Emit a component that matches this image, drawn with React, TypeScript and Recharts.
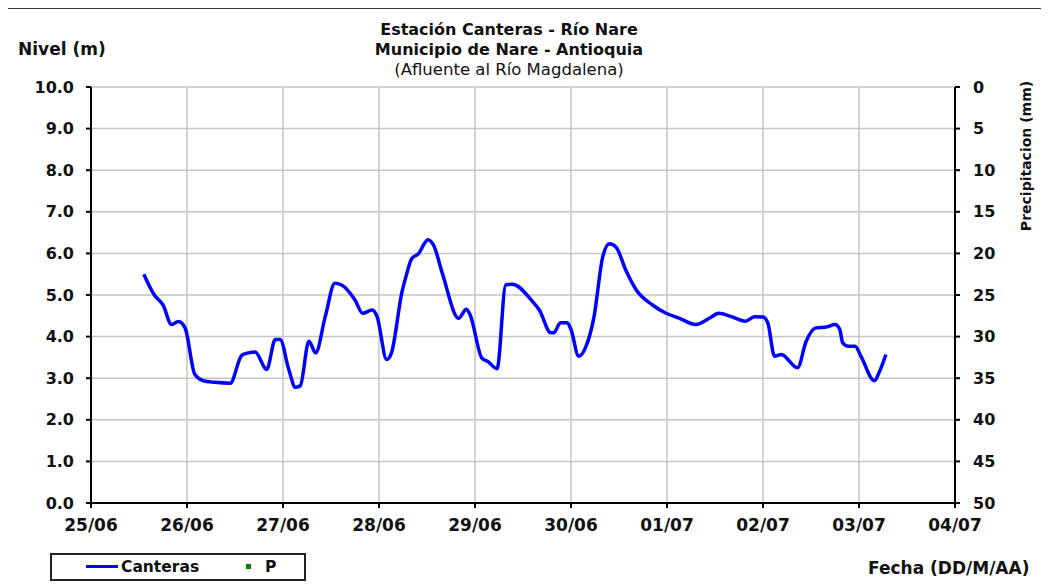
import React from "react";
import { LineChart, Line, XAxis, YAxis, CartesianGrid } from "recharts";

// días desde 25/06 00:00
const tiempo = [
  0.55, 0.66, 0.75, 0.84, 0.91, 0.98, 1.08, 1.17, 1.29, 1.45, 1.57, 1.64, 1.71, 1.83, 1.92, 1.97,
  2.06, 2.13, 2.18, 2.27, 2.34, 2.44, 2.54, 2.61, 2.75, 2.83, 2.93, 2.98, 3.08, 3.13, 3.24, 3.29,
  3.34, 3.41, 3.51, 3.57, 3.66, 3.83, 3.91, 3.95, 4.07, 4.14, 4.23, 4.32, 4.39, 4.6, 4.67, 4.79,
  4.82, 4.89, 4.96, 5.0, 5.08, 5.15, 5.24, 5.33, 5.4, 5.47, 5.57, 5.68, 5.85, 5.99, 6.13, 6.3,
  6.44, 6.54, 6.67, 6.82, 6.91, 7.0, 7.05, 7.12, 7.19, 7.36, 7.45, 7.55, 7.66, 7.75, 7.8, 7.83,
  7.89, 7.96, 8.02, 8.16, 8.21, 8.28,
];

const canteras = [
  5.5, 5.0, 4.76, 4.29, 4.36, 4.21, 3.1, 2.94, 2.9, 2.88, 3.55, 3.61, 3.63, 3.21, 3.93, 3.93,
  3.21, 2.78, 2.82, 3.89, 3.61, 4.48, 5.28, 5.24, 4.88, 4.56, 4.64, 4.48, 3.45, 3.61, 5.08, 5.52,
  5.87, 5.99, 6.33, 6.19, 5.52, 4.44, 4.66, 4.52, 3.49, 3.39, 3.23, 5.24, 5.26, 4.84, 4.64, 4.09,
  4.09, 4.33, 4.33, 4.17, 3.53, 3.73, 4.48, 5.91, 6.23, 6.15, 5.6, 5.12, 4.76, 4.56, 4.44, 4.29,
  4.44, 4.56, 4.48, 4.37, 4.48, 4.47, 4.33, 3.53, 3.57, 3.25, 3.89, 4.21, 4.23, 4.29, 4.17, 3.85,
  3.77, 3.77, 3.53, 2.94, 3.14, 3.57,
];

// sin registros de precipitación en el periodo
const precipitacion: (number | null)[] = [];

const fechas = ["25/06", "26/06", "27/06", "28/06", "29/06", "30/06", "01/07", "02/07", "03/07", "04/07"];
const nivelTicks = [0, 1, 2, 3, 4, 5, 6, 7, 8, 9, 10];
const precTicks = [0, 5, 10, 15, 20, 25, 30, 35, 40, 45, 50];

const data = tiempo.map((t, i) => ({
  t,
  canteras: canteras[i],
  p: precipitacion[i] ?? null,
}));

const font = "'DejaVu Sans', 'Liberation Sans', Arial, sans-serif";

const textBase: React.CSSProperties = {
  position: "absolute",
  fontFamily: font,
  fontWeight: "bold",
  color: "#111",
  whiteSpace: "nowrap",
};

const titleLine: React.CSSProperties = {
  ...textBase,
  left: 309,
  width: 400,
  textAlign: "center",
  fontSize: 16,
  lineHeight: "18px",
};

export default function App() {
  return (
    <div
      style={{
        position: "relative",
        width: 1049,
        height: 585,
        margin: "-8px 0 0 -8px",
        overflow: "hidden",
        background: "#fff",
      }}
    >
      <div
        style={{
          position: "absolute",
          left: 5,
          top: 7,
          width: 1100,
          height: 700,
          border: "2px solid #3a3a3a",
        }}
      />

      <div style={{ ...titleLine, top: 21 }}>Estación Canteras - Río Nare</div>
      <div style={{ ...titleLine, top: 41 }}>Municipio de Nare - Antioquia</div>
      <div style={{ ...titleLine, top: 61, fontSize: 16.5, fontWeight: "normal" }}>(Afluente al Río Magdalena)</div>

      <div style={{ ...textBase, left: 18, top: 39, fontSize: 17, lineHeight: "20px" }}>Nivel (m)</div>

      <div
        style={{
          ...textBase,
          left: 1026,
          top: 156,
          fontSize: 14,
          lineHeight: "16px",
          transform: "translate(-50%, -50%) rotate(-90deg)",
        }}
      >
        Precipitacion (mm)
      </div>

      <div style={{ position: "absolute", left: 0, top: 0 }}>
        <LineChart width={1049} height={585} data={data} margin={{ top: 87, right: 0, bottom: 0, left: 0 }}>
          <CartesianGrid yAxisId="left" stroke="#c6c6c6" strokeWidth={1.5} />
          <XAxis
            dataKey="t"
            type="number"
            domain={[0, 9]}
            ticks={fechas.map((_, i) => i)}
            tickFormatter={(v: number) => fechas[v] ?? ""}
            height={82}
            interval={0}
            stroke="#000"
            strokeWidth={2}
            tickSize={5}
            tickMargin={11}
            tick={{ fill: "#111", fontSize: 17, fontWeight: "bold", fontFamily: font }}
          />
          <YAxis
            yAxisId="left"
            domain={[0, 10]}
            ticks={nivelTicks}
            tickFormatter={(v: number) => v.toFixed(1)}
            width={91}
            interval={0}
            stroke="#000"
            strokeWidth={2}
            tickSize={5}
            tickMargin={12}
            tick={{ fill: "#111", fontSize: 16, fontWeight: "bold", fontFamily: font }}
          />
          <YAxis
            yAxisId="right"
            orientation="right"
            domain={[0, 50]}
            allowDataOverflow
            reversed
            ticks={precTicks}
            width={94}
            interval={0}
            stroke="#000"
            strokeWidth={2}
            tickSize={5}
            tickMargin={13}
            tick={{ fill: "#111", fontSize: 16, fontWeight: "bold", fontFamily: font }}
          />
          <Line
            yAxisId="left"
            dataKey="canteras"
            type="monotone"
            stroke="#0000ff"
            strokeWidth={3.5}
            dot={false}
            isAnimationActive={false}
          />
          <Line
            yAxisId="right"
            dataKey="p"
            type="monotone"
            stroke="#008000"
            strokeWidth={0}
            dot={false}
            isAnimationActive={false}
          />
        </LineChart>
      </div>

      <div
        style={{
          position: "absolute",
          left: 50,
          top: 553,
          width: 252,
          height: 24,
          border: "2px solid #222",
        }}
      >
        <div style={{ position: "absolute", left: 34, top: 10, width: 32, height: 3, background: "#0000ff" }} />
        <div style={{ ...textBase, left: 69, top: 2, fontSize: 15.5, lineHeight: "20px" }}>Canteras</div>
        <div style={{ position: "absolute", left: 194, top: 9, width: 5, height: 5, background: "#008000" }} />
        <div style={{ ...textBase, left: 213, top: 2, fontSize: 15.5, lineHeight: "20px" }}>P</div>
      </div>

      <div style={{ ...textBase, left: 868, top: 557, fontSize: 17, lineHeight: "22px" }}>Fecha (DD/M/AA)</div>
    </div>
  );
}
